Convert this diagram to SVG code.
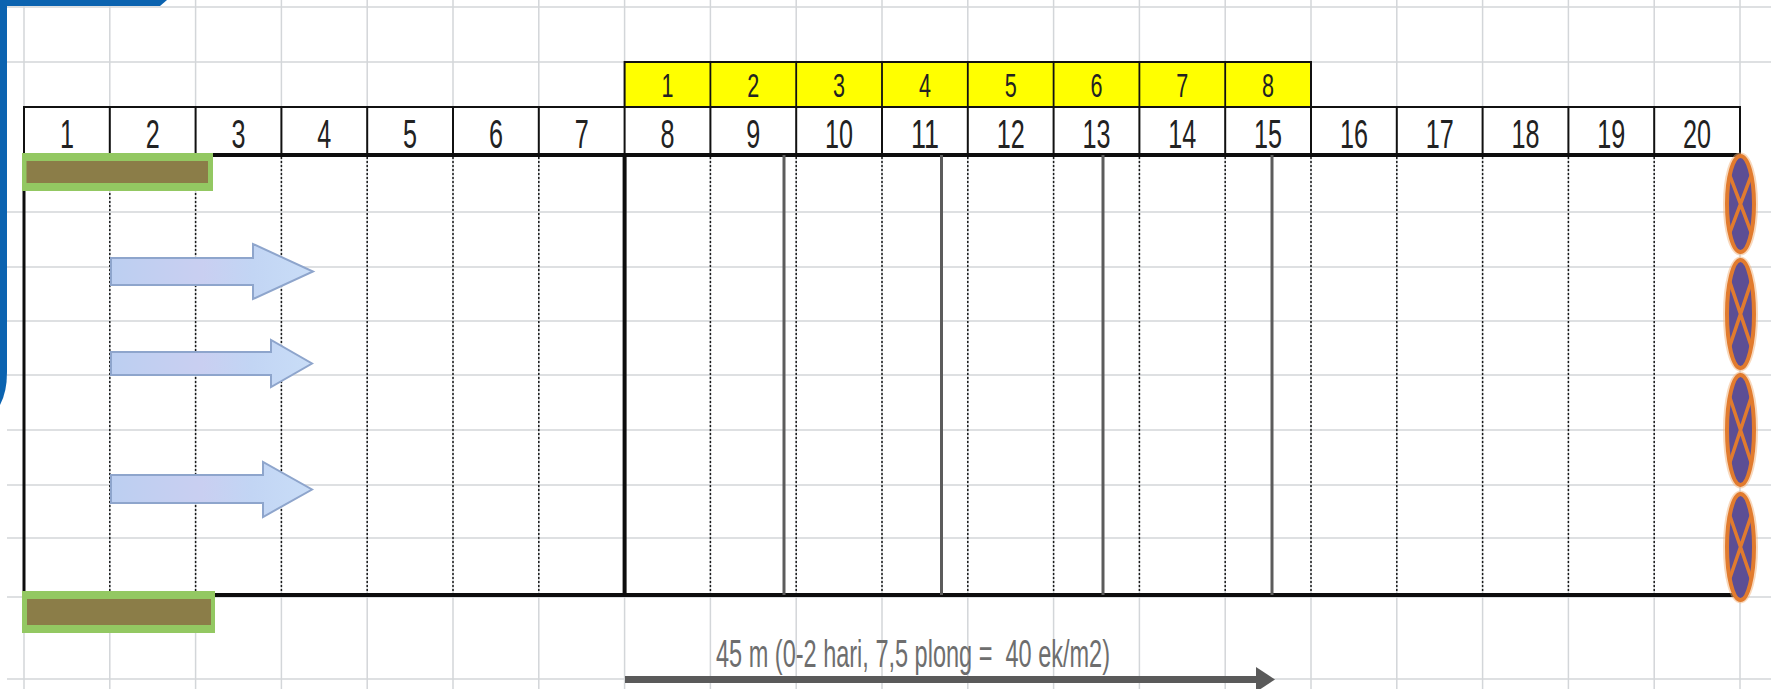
<svg xmlns="http://www.w3.org/2000/svg" width="1771" height="689" viewBox="0 0 1771 689">
<defs>
<style>
.grid{stroke:#d3d6d9;stroke-width:1.5;fill:none}
.dot{stroke:#1a1a1a;stroke-width:1.5;stroke-dasharray:2 2;fill:none}
.thick{stroke:#0d0d0d;fill:none}
.gline{stroke:#5c5c5c;stroke-width:3;fill:none}
.hdr{font-family:"Liberation Sans",Arial,sans-serif;font-size:40px;fill:#222;text-anchor:middle}
.yel{font-family:"Liberation Sans",Arial,sans-serif;font-size:33px;fill:#222;text-anchor:middle}
.cap{font-family:"Liberation Sans",Arial,sans-serif;font-size:38px;fill:#6e6e6e;white-space:pre}
.barOut{fill:#93c862}
.barIn{fill:#8b7d48}
.blk{fill:url(#blueGrad);stroke:#8ea5cc;stroke-width:2}
.post{fill:#5c4e94;stroke:#e17b2e;stroke-width:4}
.postGlow{fill:none;stroke:#f2b27a;stroke-width:7;opacity:0.5}
.postX{stroke:#e17b2e;stroke-width:3.5;fill:none}
</style>
<linearGradient id="blueGrad" x1="0" y1="0" x2="1" y2="0">
<stop offset="0" stop-color="#bccff1"/>
<stop offset="0.45" stop-color="#c9cff1"/>
<stop offset="0.7" stop-color="#c2d5f4"/>
<stop offset="1" stop-color="#c9ddf7"/>
</linearGradient>
</defs>
<rect x="0" y="0" width="1771" height="689" fill="#ffffff"/>

<g id="grid">
<path class="grid" d="M24 0V689M109.8 0V689M195.6 0V689M281.4 0V689M367.2 0V689M453 0V689M538.8 0V689M624.6 0V689M710.4 0V689M796.2 0V689M882 0V689M967.8 0V689M1053.6 0V689M1139.4 0V689M1225.2 0V689M1311 0V689M1396.8 0V689M1482.6 0V689M1568.4 0V689M1654.2 0V689M1740 0V689"/>
<path class="grid" d="M7 7H1771M7 62H1771M7 212H1771M7 267H1771M7 321H1771M7 375H1771M7 430H1771M7 485H1771M7 538H1771M7 597H1771M7 679H1771"/>
</g>

<g id="frame-blue">
<path d="M0 0H167L160 6H0Z" fill="#0b63b0"/>
<path d="M0 0H7V372Q7 392 0 405Z" fill="#0b63b0"/>
</g>

<g id="yellow-row">
<rect x="624.6" y="62" width="686.4" height="45" fill="#ffff00" stroke="#111" stroke-width="2"/>
<path stroke="#111" stroke-width="1.8" d="M710.4 62V107M796.2 62V107M882 62V107M967.8 62V107M1053.6 62V107M1139.4 62V107M1225.2 62V107"/>
<text class="yel" x="667.5" y="97" textLength="12" lengthAdjust="spacingAndGlyphs">1</text>
<text class="yel" x="753.3" y="97" textLength="12" lengthAdjust="spacingAndGlyphs">2</text>
<text class="yel" x="839.1" y="97" textLength="12" lengthAdjust="spacingAndGlyphs">3</text>
<text class="yel" x="924.9" y="97" textLength="12" lengthAdjust="spacingAndGlyphs">4</text>
<text class="yel" x="1010.7" y="97" textLength="12" lengthAdjust="spacingAndGlyphs">5</text>
<text class="yel" x="1096.5" y="97" textLength="12" lengthAdjust="spacingAndGlyphs">6</text>
<text class="yel" x="1182.3" y="97" textLength="12" lengthAdjust="spacingAndGlyphs">7</text>
<text class="yel" x="1268.1" y="97" textLength="12" lengthAdjust="spacingAndGlyphs">8</text>
</g>

<g id="header">
<rect x="24" y="107" width="1716" height="48" fill="#ffffff" stroke="#111" stroke-width="2"/>
<path stroke="#111" stroke-width="2" d="M109.8 107V155M195.6 107V155M281.4 107V155M367.2 107V155M453 107V155M538.8 107V155M624.6 107V155M710.4 107V155M796.2 107V155M882 107V155M967.8 107V155M1053.6 107V155M1139.4 107V155M1225.2 107V155M1311 107V155M1396.8 107V155M1482.6 107V155M1568.4 107V155M1654.2 107V155"/>
<text class="hdr" x="66.9" y="148" textLength="14" lengthAdjust="spacingAndGlyphs">1</text>
<text class="hdr" x="152.7" y="148" textLength="14" lengthAdjust="spacingAndGlyphs">2</text>
<text class="hdr" x="238.5" y="148" textLength="14" lengthAdjust="spacingAndGlyphs">3</text>
<text class="hdr" x="324.3" y="148" textLength="14" lengthAdjust="spacingAndGlyphs">4</text>
<text class="hdr" x="410.1" y="148" textLength="14" lengthAdjust="spacingAndGlyphs">5</text>
<text class="hdr" x="495.9" y="148" textLength="14" lengthAdjust="spacingAndGlyphs">6</text>
<text class="hdr" x="581.7" y="148" textLength="14" lengthAdjust="spacingAndGlyphs">7</text>
<text class="hdr" x="667.5" y="148" textLength="14" lengthAdjust="spacingAndGlyphs">8</text>
<text class="hdr" x="753.3" y="148" textLength="14" lengthAdjust="spacingAndGlyphs">9</text>
<text class="hdr" x="839.1" y="148" textLength="28" lengthAdjust="spacingAndGlyphs">10</text>
<text class="hdr" x="924.9" y="148" textLength="28" lengthAdjust="spacingAndGlyphs">11</text>
<text class="hdr" x="1010.7" y="148" textLength="28" lengthAdjust="spacingAndGlyphs">12</text>
<text class="hdr" x="1096.5" y="148" textLength="28" lengthAdjust="spacingAndGlyphs">13</text>
<text class="hdr" x="1182.3" y="148" textLength="28" lengthAdjust="spacingAndGlyphs">14</text>
<text class="hdr" x="1268.1" y="148" textLength="28" lengthAdjust="spacingAndGlyphs">15</text>
<text class="hdr" x="1353.9" y="148" textLength="28" lengthAdjust="spacingAndGlyphs">16</text>
<text class="hdr" x="1439.7" y="148" textLength="28" lengthAdjust="spacingAndGlyphs">17</text>
<text class="hdr" x="1525.5" y="148" textLength="28" lengthAdjust="spacingAndGlyphs">18</text>
<text class="hdr" x="1611.3" y="148" textLength="28" lengthAdjust="spacingAndGlyphs">19</text>
<text class="hdr" x="1697.1" y="148" textLength="28" lengthAdjust="spacingAndGlyphs">20</text>
</g>

<g id="pond">
<path class="dot" d="M109.8 157V593M195.6 157V593M281.4 157V593M367.2 157V593M453 157V593M538.8 157V593M710.4 157V593M796.2 157V593M882 157V593M967.8 157V593M1053.6 157V593M1139.4 157V593M1225.2 157V593M1311 157V593M1396.8 157V593M1482.6 157V593M1568.4 157V593M1654.2 157V593"/>
<path class="thick" stroke-width="4" d="M22 155H1740M22 595H1740M624.6 155V595"/>
<path class="thick" stroke-width="3" d="M24 155V595"/>
</g>

<g id="partitions">
<path class="gline" d="M784 155V595M941.5 155V595M1103 155V595M1272 155V595"/>
</g>

<g id="bar-top">
<rect class="barOut" x="22" y="153" width="191" height="38"/>
<rect class="barIn" x="26.5" y="161" width="181.5" height="22"/>
</g>
<g id="bar-bottom">
<rect class="barOut" x="22" y="591" width="193" height="42"/>
<rect class="barIn" x="27" y="599" width="184" height="26"/>
</g>

<g id="flow-arrow-1"><path class="blk" d="M111 258H253V244L313 271.5L253 299V285H111Z"/></g>
<g id="flow-arrow-2"><path class="blk" d="M111 352H271V340L312 363.5L271 387V375H111Z"/></g>
<g id="flow-arrow-3"><path class="blk" d="M111 475H263V462L312 489.5L263 517V503H111Z"/></g>

<g id="post-1">
<ellipse class="postGlow" cx="1740.5" cy="204" rx="14" ry="48"/>
<ellipse class="post" cx="1740.5" cy="204" rx="13.5" ry="48"/>
<path class="postX" d="M1729.7 175.2L1751.3 232.8M1751.3 175.2L1729.7 232.8"/>
</g>
<g id="post-2">
<ellipse class="postGlow" cx="1740.5" cy="314" rx="14" ry="54"/>
<ellipse class="post" cx="1740.5" cy="314" rx="13.5" ry="54"/>
<path class="postX" d="M1729.7 281.6L1751.3 346.4M1751.3 281.6L1729.7 346.4"/>
</g>
<g id="post-3">
<ellipse class="postGlow" cx="1740.5" cy="430" rx="14" ry="55"/>
<ellipse class="post" cx="1740.5" cy="430" rx="13.5" ry="55"/>
<path class="postX" d="M1729.7 397L1751.3 463M1751.3 397L1729.7 463"/>
</g>
<g id="post-4">
<ellipse class="postGlow" cx="1740.5" cy="547" rx="14" ry="53"/>
<ellipse class="post" cx="1740.5" cy="547" rx="13.5" ry="53"/>
<path class="postX" d="M1729.7 515.2L1751.3 578.8M1751.3 515.2L1729.7 578.8"/>
</g>

<g id="connectors">
<path d="M625 679.5H1258" stroke="#5a5a5a" stroke-width="7" fill="none"/>
<path d="M1256 667L1275 679.5L1256 692Z" fill="#5a5a5a"/>
</g>

<g id="label">
<text class="cap" x="716" y="667" textLength="394" lengthAdjust="spacingAndGlyphs">45 m (0-2 hari, 7,5 plong =  40 ek/m2)</text>
</g>
</svg>
